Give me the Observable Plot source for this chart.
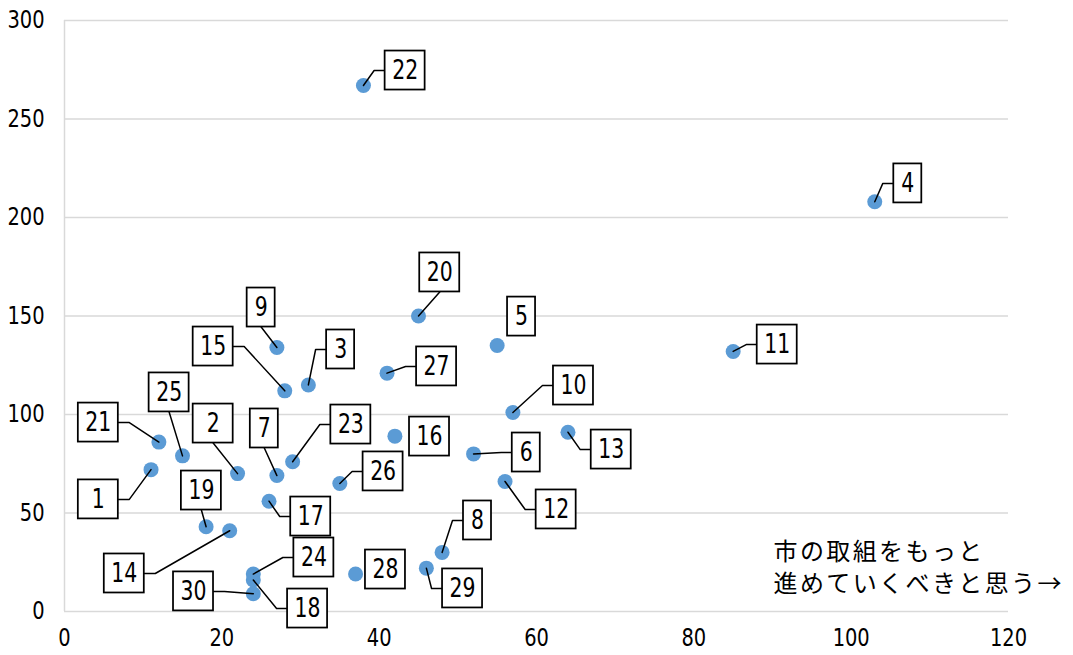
<!DOCTYPE html>
<html><head><meta charset="utf-8">
<script src="https://cdn.jsdelivr.net/npm/d3@7"></script>
<script src="https://cdn.jsdelivr.net/npm/@observablehq/plot@0.6"></script>
<style>
html,body{margin:0;padding:0;background:#fff;}
#chart svg{display:block;}
</style></head><body><div id="chart"></div>
<script>
// ---- data ----
const ids = ["1","2","3","4","5","6","7","8","9","10","11","12","13","14","15","16","17","18","19","20","21","22","23","24","25","26","27","28","29","30"];
const xValues = [11,22,31,103,55,52,27,48,27,57,85,56,64,21,28,42,26,24,18,45,12,38,29,24,15,35,41,37,46,24];
const yValues = [72,70,115,208,135,80,69,30,134,101,132,66,91,41,112,89,56,16,43,150,86,267,76,19,79,65,121,19,22,9];
// label anchor positions (data units)
const labelX = [4.3,18.9,35.1,107.2,58.1,58.7,25.4,52.5,25.0,64.7,90.6,62.5,69.5,7.6,18.9,46.4,31.3,30.9,17.4,47.7,4.3,43.3,36.4,31.7,13.3,40.5,47.3,40.8,50.6,16.4];
const labelY = [56.9,95.4,133.0,217.3,149.7,80.7,92.9,46.2,154.3,114.7,135.5,51.8,82.2,19.3,134.5,88.8,48.2,1.5,61.4,172.1,95.9,274.6,94.9,27.4,111.2,71.1,124.4,21.3,11.7,10.2];
const noLeader = ["5","16","28"];
const wideBoxes = ["1","2"];
const xTicks = [0,20,40,60,80,100,120];
const yTicks = [0,50,100,150,200,250,300];
const annotationLines = ["市の取組をもっと", "進めていくべきと思う→"];

// ---- layout ----
const W = 1073, H = 655, mL = 64, mR = 65, mT = 20, mB = 44;
const numFont = "'DejaVu Sans Condensed', 'Liberation Sans', sans-serif";
const sx = d3.scaleLinear([0, 120], [mL, W - mR]);
const sy = d3.scaleLinear([0, 300], [H - mB, mT]);

const points = ids.map((id, i) => ({id, x: xValues[i], y: yValues[i], lx: labelX[i], ly: labelY[i]}));

const boxH = 39;
const boxes = [];
const leaders = [];
for (const p of points) {
  const w = (p.id.length > 1 || wideBoxes.includes(p.id)) ? 40 : 28;
  const cx = sx(p.lx), cy = sy(p.ly);
  const L = cx - w / 2, R = cx + w / 2, T = cy - boxH / 2, B = cy + boxH / 2;
  boxes.push({id: p.id, x1: sx.invert(L), x2: sx.invert(R), y1: sy.invert(B), y2: sy.invert(T)});
  if (noLeader.includes(p.id)) continue;
  const px = sx(p.x), py = sy(p.y);
  const ddx = px < L ? L - px : px > R ? px - R : 0;
  const ddy = py < T ? T - py : py > B ? py - B : 0;
  let pts;
  if (ddy > ddx) {
    pts = [[cx, py > B ? B : T], [px, py]];
  } else {
    const side = px < L ? L : R;
    const elbow = side + (px < L ? -11 : 11);
    pts = [[side, cy], [elbow, cy], [px, py]];
  }
  pts.forEach(([a, b], k) => leaders.push({id: p.id, k, x: sx.invert(a), y: sy.invert(b)}));
}

const annoFont = "'Noto Sans CJK JP', sans-serif";
const chart = Plot.plot({
  width: W, height: H,
  marginLeft: mL, marginRight: mR, marginTop: mT, marginBottom: mB,
  style: {fontFamily: numFont, fontSize: "24px", color: "#000", background: "#fff"},
  x: {domain: [0, 120]},
  y: {domain: [0, 300]},
  marks: [
    Plot.ruleY(yTicks.filter(d => d > 0), {stroke: "#d9d9d9", strokeWidth: 1.5}),
    Plot.ruleY([0], {stroke: "#d9d9d9", strokeWidth: 1.5}),
    Plot.ruleX([0], {stroke: "#d9d9d9", strokeWidth: 1.5}),
    Plot.axisX(xTicks, {tickSize: 0, tickPadding: 17, fontSize: 24, fontFamily: numFont, label: null}),
    Plot.axisY(yTicks, {tickSize: 0, tickPadding: 20, fontSize: 24, fontFamily: numFont, label: null}),
    Plot.dot(points, {x: "x", y: "y", r: 7.5, fill: "#5B9BD5", stroke: "none"}),
    Plot.line(leaders, {x: "x", y: "y", z: "id", stroke: "#000", strokeWidth: 1.5, curve: "linear"}),
    Plot.rect(boxes, {x1: "x1", x2: "x2", y1: "y1", y2: "y2", fill: "#fff", stroke: "#000", strokeWidth: 1.75}),
    Plot.text(points, {x: "lx", y: "ly", text: "id", fontSize: 27, fontFamily: numFont, fill: "#000"}),
    Plot.text([annotationLines[0]], {frameAnchor: "bottom-right", textAnchor: "start", lineAnchor: "middle", dx: -235, dy: -59, fontSize: 24, fontFamily: annoFont, fill: "#000"}),
    Plot.text([annotationLines[1]], {frameAnchor: "bottom-right", textAnchor: "start", lineAnchor: "middle", dx: -235, dy: -27, fontSize: 24, fontFamily: annoFont, fill: "#000"})
  ]
});
document.getElementById("chart").appendChild(chart);

// narrow the numeric glyphs to resemble the condensed UI font of the original
function narrow(sel, factor) {
  chart.querySelectorAll(sel).forEach(t => {
    if (!/^\d+$/.test(t.textContent)) return;
    const len = t.getComputedTextLength();
    t.setAttribute("textLength", (len * factor).toFixed(2));
    t.setAttribute("lengthAdjust", "spacingAndGlyphs");
  });
}
narrow('g[aria-label="x-axis tick label"] text', 0.9);
narrow('g[aria-label="y-axis tick label"] text', 0.9);
narrow('g[aria-label="text"] text', 0.84);
// widen the Japanese annotation's character pitch to match the original
chart.querySelectorAll('g[aria-label="text"] text').forEach(t => {
  if (annotationLines.includes(t.textContent)) t.setAttribute("letter-spacing", "2.4");
});
</script>
</body></html>
